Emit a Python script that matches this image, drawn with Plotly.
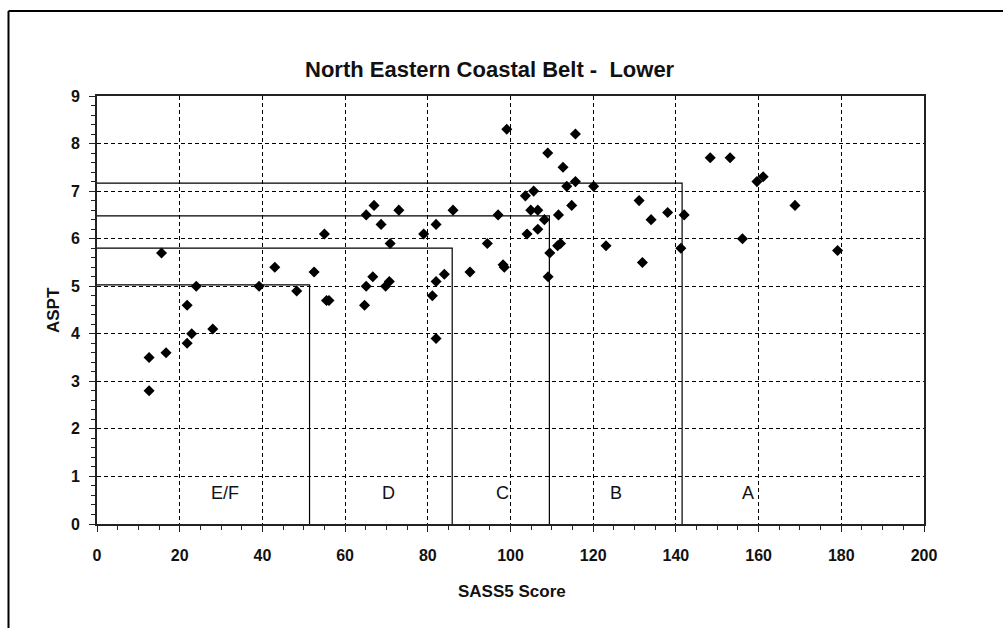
import plotly.graph_objects as go

# ---- data ----
sass5 = [12.6, 12.6, 15.6, 16.7, 21.8, 21.8, 22.9, 24.0, 28.0, 39.2, 43.0, 48.3, 52.5, 55.0,
         55.5, 56.1, 64.7, 65.1, 65.1, 66.7, 67.0, 68.7, 69.8, 70.7, 70.9, 73.0, 79.0, 81.1,
         82.0, 82.0, 82.0, 84.0, 86.1, 90.2, 94.4, 97.0, 98.2, 98.5, 99.1, 103.6, 104.0, 104.9,
         105.6, 106.6, 106.6, 108.2, 109.0, 109.1, 109.5, 111.4, 111.6, 112.1, 112.7, 113.6,
         114.8, 115.7, 115.7, 120.1, 123.1, 131.1, 131.9, 134.0, 138.0, 141.2, 142.0, 148.3,
         153.1, 156.1, 159.6, 161.1, 168.8, 179.1]
aspt = [2.8, 3.5, 5.7, 3.6, 3.8, 4.6, 4.0, 5.0, 4.1, 5.0, 5.4, 4.9, 5.3, 6.1,
        4.7, 4.7, 4.6, 5.0, 6.5, 5.2, 6.7, 6.3, 5.0, 5.1, 5.9, 6.6, 6.1, 4.8,
        3.9, 5.1, 6.3, 5.25, 6.6, 5.3, 5.9, 6.5, 5.45, 5.4, 8.3, 6.9, 6.1, 6.6,
        7.0, 6.6, 6.2, 6.4, 7.8, 5.2, 5.7, 5.85, 6.5, 5.9, 7.5, 7.1,
        6.7, 7.2, 8.2, 7.1, 5.85, 6.8, 5.5, 6.4, 6.55, 5.8, 6.5, 7.7,
        7.7, 6.0, 7.2, 7.3, 6.7, 5.75]

band_sass = [51.4, 85.9, 109.4, 141.5]
band_aspt = [5.03, 5.80, 6.48, 7.17]
band_labels = ["E/F", "D", "C", "B", "A"]
band_label_x = [31, 70.5, 98, 125.5, 157.5]
band_label_y = 0.65

x_ticks = list(range(0, 201, 20))
y_ticks = list(range(0, 10))

title_text = "North Eastern Coastal Belt -  Lower"
x_title = "SASS5 Score"
y_title = "ASPT"

# ---- figure ----
FONT = "Liberation Sans, Arial, sans-serif"
fig = go.Figure()

for bx, by in zip(band_sass, band_aspt):
    fig.add_trace(go.Scatter(x=[0, bx, bx], y=[by, by, 0], mode="lines",
                             line=dict(color="#000", width=1.2),
                             hoverinfo="skip", showlegend=False))

fig.add_trace(go.Scatter(x=sass5, y=aspt, mode="markers",
                         marker=dict(symbol="diamond", size=8.5, color="#000"),
                         showlegend=False))

for lab, lx in zip(band_labels, band_label_x):
    fig.add_annotation(x=lx, y=band_label_y, text=lab, showarrow=False,
                       font=dict(family=FONT, size=18, color="#111"))

L, R, T, B = 97, 79, 96, 104
W, H = 1003, 628
pw, ph = W - L - R, H - T - B

def px2paper_x(px):
    return (px - L) / pw

def px2paper_y(py):
    return (H - B - py) / ph

# title
fig.add_annotation(xref="paper", yref="paper", x=px2paper_x(490), y=px2paper_y(69),
                   text="<b>%s</b>" % title_text, showarrow=False, xanchor="center",
                   yanchor="middle", font=dict(family=FONT, size=22, color="#111"))
# axis titles
fig.add_annotation(xref="paper", yref="paper", x=px2paper_x(512), y=px2paper_y(591),
                   text="<b>%s</b>" % x_title, showarrow=False, xanchor="center",
                   yanchor="middle", font=dict(family=FONT, size=17, color="#111"))
fig.add_annotation(xref="paper", yref="paper", x=px2paper_x(53), y=px2paper_y(310),
                   text="<b>%s</b>" % y_title, showarrow=False, textangle=-90,
                   xanchor="center", yanchor="middle",
                   font=dict(family=FONT, size=17, color="#111"))

# outer frame (top and left)
fig.add_shape(type="line", xref="paper", yref="paper",
              x0=px2paper_x(8.5), x1=px2paper_x(1003), y0=px2paper_y(11), y1=px2paper_y(11),
              line=dict(color="#000", width=2))
fig.add_shape(type="line", xref="paper", yref="paper",
              x0=px2paper_x(8.5), x1=px2paper_x(8.5), y0=px2paper_y(11), y1=px2paper_y(628),
              line=dict(color="#000", width=2))

axis_common = dict(showline=True, linecolor="#222", linewidth=2, mirror=True,
                   showgrid=True, gridcolor="#000", gridwidth=1, griddash="4px,3px",
                   zeroline=False, ticks="outside", ticklen=6, tickcolor="#222",
                   tickwidth=1,
                   tickfont=dict(family=FONT, size=16, color="#111", weight="bold"))

fig.update_xaxes(range=[0, 200], tickvals=x_ticks, ticklabelstandoff=10,
                 minor=dict(dtick=5, ticks="outside", ticklen=4, tickcolor="#222",
                            showgrid=False),
                 **axis_common)
fig.update_yaxes(range=[0, 9], tickvals=y_ticks, ticklabelstandoff=6,
                 minor=dict(dtick=0.2, ticks="outside", ticklen=4, tickcolor="#222",
                            showgrid=False),
                 **axis_common)

fig.update_layout(width=W, height=H, margin=dict(l=L, r=R, t=T, b=B),
                  paper_bgcolor="white", plot_bgcolor="white", showlegend=False)

fig.write_html("out.html", config={"displayModeBar": False},
               post_script="document.body.style.margin='0';")
